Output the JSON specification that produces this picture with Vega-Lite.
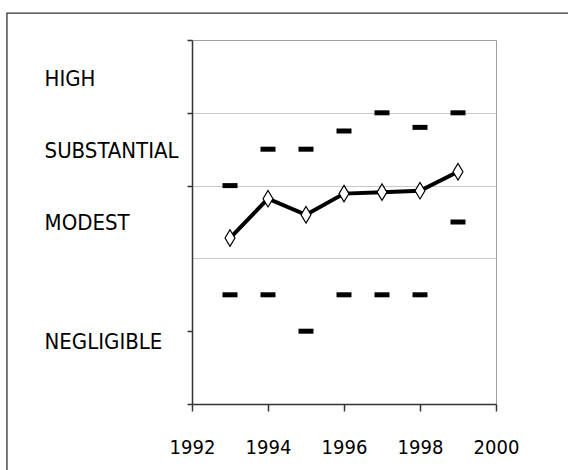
{
  "$schema": "https://vega.github.io/schema/vega-lite/v6.json",
  "width": 304,
  "height": 364,
  "autosize": "none",
  "padding": {"left": 192, "top": 40, "right": 72, "bottom": 66},
  "background": "white",
  "config": {
    "view": {"stroke": "#a0a0a0", "strokeWidth": 1},
    "font": "'DejaVu Sans Condensed', 'Liberation Sans', sans-serif"
  },
  "datasets": {
    "series": [
      {"year": 1993, "mean": 2.28, "upper": 3.0, "lower": 1.5},
      {"year": 1994, "mean": 2.82, "upper": 3.5, "lower": 1.5},
      {"year": 1995, "mean": 2.60, "upper": 3.5, "lower": 1.0},
      {"year": 1996, "mean": 2.89, "upper": 3.75, "lower": 1.5},
      {"year": 1997, "mean": 2.91, "upper": 4.0, "lower": 1.5},
      {"year": 1998, "mean": 2.93, "upper": 3.8, "lower": 1.5},
      {"year": 1999, "mean": 3.19, "upper": 4.0, "lower": 2.5}
    ],
    "levels": [
      {"level": "HIGH", "pos": 4.47},
      {"level": "SUBSTANTIAL", "pos": 3.48},
      {"level": "MODEST", "pos": 2.49},
      {"level": "NEGLIGIBLE", "pos": 0.85}
    ]
  },
  "layer": [
    {
      "data": {"values": [{"frame": 1}]},
      "mark": {"type": "rect", "fillOpacity": 0, "stroke": "#333333", "strokeWidth": 1.3, "clip": false},
      "encoding": {
        "x": {"datum": 1987.13, "type": "quantitative"},
        "x2": {"datum": 2005},
        "y": {"datum": 5.37, "type": "quantitative"},
        "y2": {"datum": -3}
      }
    },
    {
      "data": {"name": "series"},
      "mark": {"type": "line", "color": "black", "strokeWidth": 4},
      "encoding": {
        "x": {
          "field": "year", "type": "quantitative",
          "scale": {"domain": [1992, 2000], "nice": false, "zero": false},
          "axis": {
            "title": null, "values": [1992, 1994, 1996, 1998, 2000], "format": "d",
            "grid": false, "tickSize": 7, "tickColor": "#333333", "domainColor": "#333333",
            "domainWidth": 1.5, "tickWidth": 1.5,
            "labelFontSize": 20, "labelColor": "black", "labelPadding": 26, "labelDx": 4,
            "labelFont": "'DejaVu Sans Condensed', 'Liberation Sans', sans-serif", "labelFlush": false, "labelOverlap": false
          }
        },
        "y": {
          "field": "mean", "type": "quantitative",
          "scale": {"domain": [0, 5], "nice": false, "zero": false},
          "axis": {
            "title": null, "values": [0, 1, 2, 3, 4, 5], "labels": false,
            "tickSize": 5, "tickColor": "#333333", "domainColor": "#333333",
            "domainWidth": 1.5, "tickWidth": 1.5,
            "grid": true, "gridColor": "#c8c8c8", "gridWidth": 1,
            "gridOpacity": {"condition": {"test": "datum.value >= 2 && datum.value <= 4", "value": 1}, "value": 0},
            "tickOpacity": {"condition": {"test": "datum.value == 2", "value": 0}, "value": 1}
          }
        }
      }
    },
    {
      "data": {"name": "series"},
      "mark": {"type": "point", "shape": "M0,-1L0.6,0L0,1L-0.6,0Z", "size": 272, "filled": true, "fill": "white", "stroke": "black", "strokeWidth": 1.2, "opacity": 1},
      "encoding": {
        "x": {"field": "year", "type": "quantitative"},
        "y": {"field": "mean", "type": "quantitative"}
      }
    },
    {
      "data": {"name": "series"},
      "mark": {"type": "tick", "orient": "horizontal", "size": 15, "thickness": 5, "color": "black", "opacity": 1},
      "encoding": {
        "x": {"field": "year", "type": "quantitative"},
        "y": {"field": "upper", "type": "quantitative"}
      }
    },
    {
      "data": {"name": "series"},
      "mark": {"type": "tick", "orient": "horizontal", "size": 15, "thickness": 5, "color": "black", "opacity": 1},
      "encoding": {
        "x": {"field": "year", "type": "quantitative"},
        "y": {"field": "lower", "type": "quantitative"}
      }
    },
    {
      "data": {"name": "levels"},
      "mark": {"type": "text", "align": "left", "baseline": "middle", "fontSize": 22, "font": "'DejaVu Sans Condensed', 'Liberation Sans', sans-serif", "color": "black", "clip": false},
      "encoding": {
        "x": {"datum": 1988.12, "type": "quantitative"},
        "y": {"field": "pos", "type": "quantitative"},
        "text": {"field": "level", "type": "nominal"}
      }
    }
  ]
}
